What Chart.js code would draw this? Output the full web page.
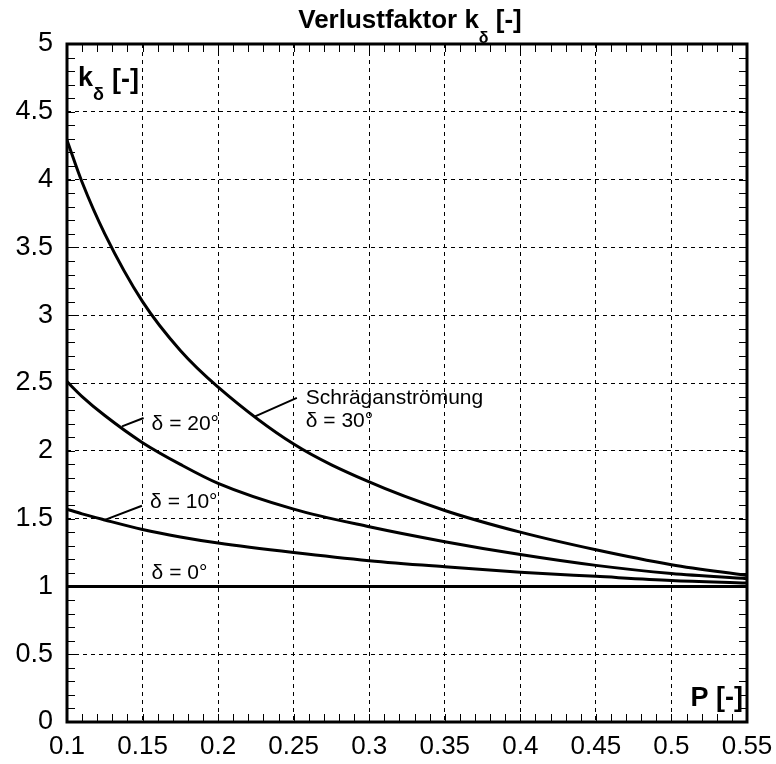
<!DOCTYPE html>
<html lang="de">
<head>
    <meta charset="UTF-8">
    <title>Verlustfaktor</title>
    <script src="https://cdn.jsdelivr.net/npm/chart.js"></script>
    <style>
        body, html {
            margin: 0;
            padding: 0;
            background: #fff;
        }
        canvas {
            display: block;
        }
    </style>
</head>
<body>
    <canvas id="lossChart" width="776" height="764"></canvas>
    <script>
        // values
        const pValues = [0.1, 0.11, 0.125, 0.15, 0.175, 0.2, 0.25, 0.3, 0.35, 0.4, 0.45, 0.5, 0.55];
        const k30 = [4.29, 3.98, 3.6, 3.1, 2.74, 2.47, 2.05, 1.77, 1.56, 1.40, 1.27, 1.16, 1.08];
        const k20 = [2.51, 2.40, 2.26, 2.06, 1.90, 1.76, 1.57, 1.44, 1.33, 1.235, 1.155, 1.095, 1.057];
        const k10 = [1.57, 1.535, 1.49, 1.42, 1.365, 1.32, 1.25, 1.19, 1.145, 1.105, 1.074, 1.044, 1.025];
        const k0 = [1, 1, 1, 1, 1, 1, 1, 1, 1, 1, 1, 1, 1];

        const xTickLabels = ['0.1', '0.15', '0.2', '0.25', '0.3', '0.35', '0.4', '0.45', '0.5', '0.55'];
        const yTickLabels = ['0', '0.5', '1', '1.5', '2', '2.5', '3', '3.5', '4', '4.5', '5'];

        const FONT = "'Liberation Sans', Arial, sans-serif";

        function series(values) {
            return values.map((v, i) => ({ x: pValues[i], y: v }));
        }

        function curve(values) {
            return {
                data: series(values),
                borderColor: '#000',
                borderWidth: 3,
                pointRadius: 0,
                fill: false,
                cubicInterpolationMode: 'monotone'
            };
        }

        // frame, inner ticks, title and curve labels
        const decorations = {
            id: 'decorations',
            afterDraw(chart) {
                const ctx = chart.ctx;
                const a = chart.chartArea;
                const xs = chart.scales.x;
                const ys = chart.scales.y;
                ctx.save();
                ctx.strokeStyle = '#000';
                ctx.fillStyle = '#000';

                // minor ticks
                ctx.lineWidth = 1;
                ctx.beginPath();
                for (let i = 10; i <= 55; i++) {
                    const px = Math.round(xs.getPixelForValue(i / 100)) + 0.5;
                    ctx.moveTo(px, a.bottom); ctx.lineTo(px, a.bottom - 8);
                    ctx.moveTo(px, a.top); ctx.lineTo(px, a.top + 8);
                }
                for (let i = 0; i <= 50; i++) {
                    const py = Math.round(ys.getPixelForValue(i / 10)) + 0.5;
                    ctx.moveTo(a.left, py); ctx.lineTo(a.left + 8, py);
                    ctx.moveTo(a.right, py); ctx.lineTo(a.right - 8, py);
                }
                ctx.stroke();

                // frame
                ctx.lineWidth = 3;
                ctx.strokeRect(a.left, a.top, a.right - a.left, a.bottom - a.top);

                // title
                ctx.textBaseline = 'alphabetic';
                ctx.textAlign = 'left';
                const t1 = 'Verlustfaktor k';
                const t2 = ' [-]';
                ctx.font = 'bold 26px ' + FONT;
                const w1 = ctx.measureText(t1).width;
                const w2 = ctx.measureText(t2).width;
                ctx.font = 'bold 16px ' + FONT;
                const ws = ctx.measureText('\u03b4').width;
                const total = w1 + ws + w2;
                let tx = 410 - total / 2;
                ctx.font = 'bold 26px ' + FONT;
                ctx.fillText(t1, tx, 28);
                ctx.font = 'bold 16px ' + FONT;
                ctx.fillText('\u03b4', tx + w1, 43);
                ctx.font = 'bold 26px ' + FONT;
                ctx.fillText(t2, tx + w1 + ws, 28);

                // axis names inside the plot
                ctx.font = 'bold 27px ' + FONT;
                ctx.fillText('k', 78, 86);
                const kw = ctx.measureText('k').width;
                ctx.font = 'bold 18px ' + FONT;
                ctx.fillText('\u03b4', 78 + kw, 100);
                ctx.font = 'bold 27px ' + FONT;
                ctx.fillText('[-]', 112, 88);
                ctx.textAlign = 'right';
                ctx.fillText('P [-]', a.right - 4, 706);

                // curve labels
                ctx.font = '21px ' + FONT;
                ctx.textAlign = 'left';
                ctx.textBaseline = 'middle';
                const px = v => xs.getPixelForValue(v);
                const py = v => ys.getPixelForValue(v);
                ctx.fillText('Schräganströmung', px(0.258), py(2.385));
                ctx.fillText('\u03b4 = 30°', px(0.258), py(2.22));
                ctx.fillText('\u03b4 = 20°', px(0.156), py(2.195));
                ctx.fillText('\u03b4 = 10°', px(0.155), py(1.62));
                ctx.fillText('\u03b4 = 0°', px(0.156), py(1.095));

                // leader lines
                ctx.lineWidth = 2;
                ctx.beginPath();
                ctx.moveTo(px(0.2521), py(2.390)); ctx.lineTo(px(0.2245), py(2.254));
                ctx.moveTo(px(0.1507), py(2.242)); ctx.lineTo(px(0.1364), py(2.180));
                ctx.moveTo(px(0.1496), py(1.595)); ctx.lineTo(px(0.1242), py(1.487));
                ctx.stroke();
                ctx.restore();
            }
        };

        new Chart(document.getElementById('lossChart'), {
            type: 'line',
            data: {
                datasets: [curve(k30), curve(k20), curve(k10), curve(k0)]
            },
            options: {
                responsive: false,
                animation: false,
                layout: { padding: { top: 44, right: 29, left: 0, bottom: 0 } },
                plugins: {
                    legend: { display: false },
                    tooltip: { enabled: false }
                },
                scales: {
                    x: {
                        type: 'linear',
                        min: 0.1,
                        max: 0.55,
                        afterFit(scale) {
                            scale.height = 42;
                            scale.paddingLeft = 0;
                            scale.paddingRight = 0;
                        },
                        afterBuildTicks(scale) {
                            scale.ticks = xTickLabels.map(t => ({ value: parseFloat(t) }));
                        },
                        ticks: {
                            autoSkip: false,
                            maxRotation: 0,
                            padding: 9,
                            color: '#000',
                            font: { family: FONT, size: 26 },
                            callback: (v, i) => xTickLabels[i]
                        },
                        grid: { color: '#000', lineWidth: 1, drawTicks: false },
                        border: { display: false, dash: [4, 4] }
                    },
                    y: {
                        min: 0,
                        max: 5,
                        afterFit(scale) { scale.width = 67; },
                        afterBuildTicks(scale) {
                            scale.ticks = yTickLabels.map(t => ({ value: parseFloat(t) }));
                        },
                        ticks: {
                            autoSkip: false,
                            padding: 14,
                            color: '#000',
                            font: { family: FONT, size: 27 },
                            callback: (v, i) => yTickLabels[i]
                        },
                        grid: { color: '#000', lineWidth: 1, drawTicks: false },
                        border: { display: false, dash: [4, 4] }
                    }
                }
            },
            plugins: [decorations]
        });
    </script>
</body>
</html>
